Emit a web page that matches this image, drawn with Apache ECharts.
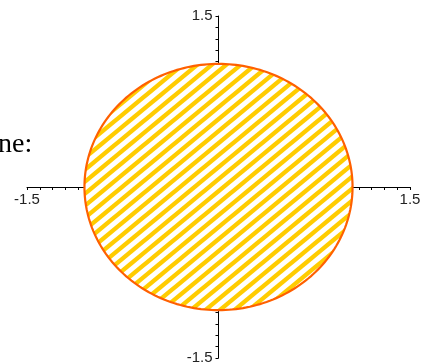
<!DOCTYPE html>
<html>
<head>
<meta charset="utf-8">
<script src="https://cdn.jsdelivr.net/npm/echarts@6/dist/echarts.min.js"></script>
<style>
  html, body { margin: 0; padding: 0; background: #fff; }
  #main { width: 427px; height: 363px; }
</style>
</head>
<body>
<div id="main"></div>
<script>
// axis range, tick step, and the only labels shown
const axisRange = [-1.5, 1.5];
const tickStep = 0.1;
const tickLabels = ['-1.5', '1.5'];

// shaded disc: centre and half sizes (data units)
const discCenter = [0, 0];
const discRadii = [1.05, 1.08];

// cut-off caption text on the left
const captionText = 'ne:';

// tile with diagonal yellow stripes on white
function makeHatch() {
  const w = 29, h = 24;
  const c = document.createElement('canvas');
  c.width = w;
  c.height = h;
  const ctx = c.getContext('2d');
  ctx.fillStyle = '#ffffff';
  ctx.fillRect(0, 0, w, h);
  ctx.strokeStyle = '#ffcc00';
  ctx.lineWidth = 4.4;
  for (let k = -2; k <= 4; k++) {
    const x0 = k * w / 2;
    ctx.beginPath();
    ctx.moveTo(x0 - w * 1.5, h * 1.5);
    ctx.lineTo(x0 + w * 0.5, -h * 0.5);
    ctx.stroke();
  }
  return c;
}

const grid = { left: 27, right: 17, top: 16, bottom: 5 };
const gridW = 427 - grid.left - grid.right;
const gridH = 363 - grid.top - grid.bottom;

const labelFont = '"Liberation Sans", Arial, sans-serif';

const showEnds = v => {
  if (Math.abs(Math.abs(v) - 1.5) > 1e-6) return '';
  return v < 0 ? tickLabels[0] : tickLabels[1];
};

const chart = echarts.init(document.getElementById('main'));

const option = {
  backgroundColor: '#ffffff',
  animation: false,
  grid: Object.assign({ outerBoundsMode: 'none', containLabel: false }, grid),
  xAxis: {
    type: 'value',
    position: 'bottom',
    offset: -gridH / 2,
    min: axisRange[0],
    max: axisRange[1],
    interval: tickStep,
    splitLine: { show: false },
    axisLine: { onZero: false, lineStyle: { color: '#000', width: 1 } },
    axisTick: { show: true, length: 3, lineStyle: { color: '#000' } },
    axisLabel: {
      formatter: showEnds,
      margin: 5,
      color: '#222',
      fontSize: 15,
      fontFamily: labelFont
    }
  },
  yAxis: {
    type: 'value',
    position: 'left',
    offset: -gridW / 2,
    min: axisRange[0],
    max: axisRange[1],
    interval: tickStep,
    splitLine: { show: false },
    axisLine: { onZero: false, lineStyle: { color: '#000', width: 1 } },
    axisTick: { show: true, length: 3, lineStyle: { color: '#000' } },
    axisLabel: {
      formatter: showEnds,
      margin: 6,
      color: '#222',
      fontSize: 15,
      fontFamily: labelFont
    }
  },
  graphic: [{
    type: 'text',
    x: -2,
    y: 145,
    style: {
      text: captionText,
      font: '28px "Liberation Serif", "Times New Roman", serif',
      fill: '#000',
      textVerticalAlign: 'middle',
      verticalAlign: 'middle'
    }
  }],
  series: [{
    type: 'custom',
    coordinateSystem: 'cartesian2d',
    data: [[discCenter[0], discCenter[1], discRadii[0], discRadii[1]]],
    renderItem: (params, api) => {
      const c = api.coord([api.value(0), api.value(1)]);
      const s = api.size([api.value(2), api.value(3)]);
      const pts = [];
      for (let i = 0; i < 240; i++) {
        const t = i / 240 * Math.PI * 2;
        pts.push([c[0] + s[0] * Math.cos(t), c[1] + s[1] * Math.sin(t)]);
      }
      return {
        type: 'polygon',
        shape: { points: pts },
        style: {
          fill: { image: makeHatch(), repeat: 'repeat' },
          stroke: '#ff6000',
          lineWidth: 2.2
        }
      };
    }
  }]
};

chart.setOption(option);
</script>
</body>
</html>
